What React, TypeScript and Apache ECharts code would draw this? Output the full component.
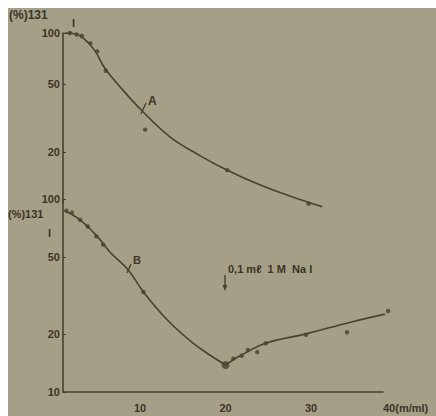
import React, { useEffect, useRef } from "react";
import * as echarts from "echarts";

const xTickValues = [10, 20, 30];
const xEndLabel = "40(m/ml)";
const yTicksTop = [20, 50, 100];
const yTicksBottom = [10, 20, 50, 100];

// Curve A (upper panel): fitted line and measured points
const curveA: number[][] = [
  [1.2, 100], [2.4, 99], [3.6, 91], [4.7, 79], [5.9, 62], [7.7, 48],
  [10.2, 35], [13.5, 24.5], [17, 19], [20.2, 15.6],
  [24, 12.8], [27.5, 11], [31.3, 9.5],
];
const pointsA: number[][] = [
  [1.8, 100], [2.6, 98], [3.2, 96], [4.2, 87], [5, 78], [6, 60],
  [10.6, 27], [20.2, 15.6], [29.7, 9.9],
];

// Curve B (lower panel): falling branch, rising branch, points
const curveBFall: number[][] = [
  [1.2, 87], [3, 78], [5, 64], [6.5, 53], [8.6, 43], [10.4, 33],
  [13.2, 23.6], [16.2, 17.9], [18.2, 15.5], [20, 13.8],
];
const curveBRise: number[][] = [
  [20, 13.8], [21.7, 15.4], [24.7, 17.9], [29.4, 20], [34.6, 23], [39.8, 26],
];
const pointsB: number[][] = [
  [1.4, 87], [2.05, 85], [3, 78], [3.9, 72], [4.9, 64], [5.7, 58],
  [10.4, 33], [20, 13.8], [20.9, 14.9], [21.9, 15.4], [22.6, 16.5],
  [23.7, 16.1], [24.7, 17.9], [29.4, 19.8], [34.2, 20.4], [39, 26.3],
];
const minPointX = 20;

const BG = "#a69f88";
const INK = "#47422f";
const TXT = "#3a3526";
const FONT = "'Liberation Sans', 'DejaVu Sans', sans-serif";

export default function App() {
  const ref = useRef<HTMLDivElement>(null);
  useEffect(() => {
    if (!ref.current) return;
    const chart = echarts.init(ref.current, undefined, { renderer: "svg" });
    const xCommon = {
      type: "value" as const,
      min: 1,
      max: 38.4,
      splitLine: { show: false },
      axisTick: { show: false },
    };
    const yCommon = {
      type: "log" as const,
      logBase: 10,
      min: 10,
      max: 100,
      splitLine: { show: false },
      axisLine: { show: true, lineStyle: { color: INK, width: 1.6 } },
      axisTick: { show: true, inside: true, length: 3, lineStyle: { color: INK } },
    };
    const labelStyle = { color: TXT, fontSize: 11, fontFamily: FONT, fontWeight: "bold" as const, margin: 3 };
    const lineStyle = { color: INK, width: 1.6 };
    const symStyle = { color: INK };
    chart.setOption({
      animation: false,
      backgroundColor: BG,
      grid: [
        { left: 55, right: 53, top: 25, height: 170 },
        { left: 55, right: 53, top: 191, height: 193 },
      ],
      xAxis: [
        { ...xCommon, gridIndex: 0, show: false },
        {
          ...xCommon,
          gridIndex: 1,
          axisLine: { show: true, lineStyle: { color: INK, width: 1.6 } },
          axisLabel: { ...labelStyle, margin: 10, customValues: xTickValues },
          name: xEndLabel,
          nameLocation: "end",
          nameGap: 0,
          nameTextStyle: {
            color: TXT, fontSize: 11, fontFamily: FONT, fontWeight: "bold",
            align: "left", verticalAlign: "top", padding: [10, 0, 0, 0],
          },
        },
      ],
      yAxis: [
        {
          ...yCommon,
          gridIndex: 0,
          axisLabel: { ...labelStyle, customValues: yTicksTop },
          axisTick: { ...yCommon.axisTick, customValues: yTicksTop },
        },
        {
          ...yCommon,
          gridIndex: 1,
          axisLabel: { ...labelStyle, customValues: yTicksBottom },
          axisTick: { ...yCommon.axisTick, customValues: yTicksBottom },
        },
      ],
      series: [
        { type: "line", xAxisIndex: 0, yAxisIndex: 0, data: curveA, smooth: 0.4, showSymbol: false, clip: false, lineStyle },
        { type: "scatter", xAxisIndex: 0, yAxisIndex: 0, data: pointsA, symbolSize: 4.5, clip: false, itemStyle: symStyle },
        { type: "line", xAxisIndex: 1, yAxisIndex: 1, data: curveBFall, smooth: 0.4, showSymbol: false, clip: false, lineStyle },
        { type: "line", xAxisIndex: 1, yAxisIndex: 1, data: curveBRise, smooth: 0.4, showSymbol: false, clip: false, lineStyle },
        {
          type: "scatter", xAxisIndex: 1, yAxisIndex: 1, data: pointsB, clip: false,
          symbolSize: (v: number[]) => (v[0] === minPointX ? 8 : 4.5),
          itemStyle: symStyle,
        },
      ],
      graphic: [
        { type: "text", left: 1, top: 1, style: { text: "(%)131", fill: TXT, font: `bold 12px ${FONT}` } },
        { type: "text", left: 64, top: 9, style: { text: "I", fill: TXT, font: `bold 11px ${FONT}` } },
        { type: "text", left: 0, top: 200, style: { text: "(%)131", fill: TXT, font: `bold 11px ${FONT}` } },
        { type: "text", left: 40, top: 219, style: { text: "I", fill: TXT, font: `bold 11px ${FONT}` } },
        { type: "line", shape: { x1: 133, y1: 106, x2: 138, y2: 95 }, style: { stroke: INK, lineWidth: 1.4 } },
        { type: "text", left: 140, top: 87, style: { text: "A", fill: TXT, font: `bold 12px ${FONT}` } },
        { type: "line", shape: { x1: 119, y1: 265, x2: 123, y2: 256 }, style: { stroke: INK, lineWidth: 1.4 } },
        { type: "text", left: 125, top: 246, style: { text: "B", fill: TXT, font: `bold 11px ${FONT}` } },
        { type: "text", left: 220, top: 255, style: { text: "0,1 mℓ  1 M  Na I", fill: TXT, font: `bold 11px ${FONT}` } },
        { type: "line", shape: { x1: 217, y1: 267, x2: 217, y2: 281 }, style: { stroke: INK, lineWidth: 1.4 } },
        { type: "polygon", shape: { points: [[214.5, 277], [219.5, 277], [217, 283]] }, style: { fill: INK } },
      ],
    });
    return () => chart.dispose();
  }, []);
  return (
    <div
      ref={ref}
      style={{ position: "absolute", left: 8, top: 8, width: 428, height: 408 }}
    />
  );
}
